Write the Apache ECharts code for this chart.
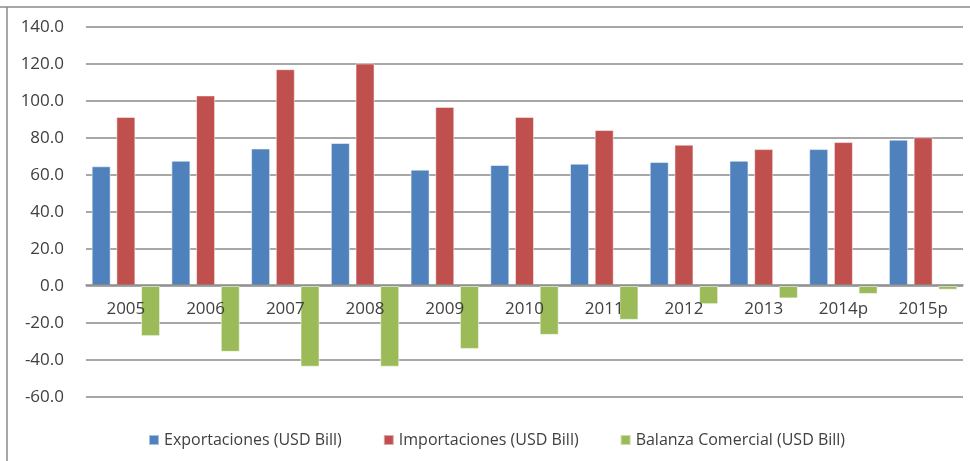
<!DOCTYPE html>
<html>
<head>
<meta charset="utf-8">
<script src="https://cdn.jsdelivr.net/npm/echarts@6/dist/echarts.min.js"></script>
<style>
  html, body { margin: 0; padding: 0; background: #fff; }
  #main { width: 970px; height: 461px; }
</style>
</head>
<body>
<div id="main"></div>
<script>
// datos
const years = ['2005', '2006', '2007', '2008', '2009', '2010', '2011', '2012', '2013', '2014p', '2015p'];
const exportaciones = [64.7, 67.7, 74.3, 77.3, 62.9, 65.4, 66.1, 67.0, 67.7, 74.0, 79.1];
const importaciones = [91.4, 103.0, 117.2, 120.3, 96.8, 91.4, 84.3, 76.4, 74.0, 77.8, 80.4];
const balanza = [-27.1, -35.6, -43.6, -43.6, -34.0, -26.4, -18.3, -9.8, -6.7, -4.3, -2.0];
const seriesNames = ['Exportaciones (USD Bill)', 'Importaciones (USD Bill)', 'Balanza Comercial (USD Bill)'];
const colors = ['#4F81BD', '#C0504D', '#9BBB59'];

const font = '"Open Sans", sans-serif';
const myChart = echarts.init(document.getElementById('main'));

function barSerie(name, data, color) {
  return {
    name: name,
    type: 'bar',
    data: data,
    barWidth: 19,
    barGap: '30%',
    itemStyle: { color: color, borderColor: 'rgba(255,255,255,0.5)', borderWidth: 1 }
  };
}

const option = {
  animation: false,
  color: colors,
  textStyle: { fontFamily: font },
  grid: { left: 86, right: 7, top: 27, bottom: 64 },
  // marco del grafico (solo arriba e izquierda)
  graphic: [
    { type: 'line', shape: { x1: 0, y1: 7, x2: 970, y2: 7 }, style: { stroke: '#8a8a8a', lineWidth: 1.5 } },
    { type: 'line', shape: { x1: 7, y1: 7, x2: 7, y2: 461 }, style: { stroke: '#8a8a8a', lineWidth: 1.5 } }
  ],
  legend: {
    left: 143,
    top: 427,
    itemWidth: 10,
    itemHeight: 10,
    itemGap: 41,
    icon: 'rect',
    textStyle: { fontSize: 16, color: '#404040', fontFamily: font },
    data: seriesNames
  },
  xAxis: {
    type: 'category',
    data: years,
    z: 10,
    // el eje se sube hasta el cero (offset negativo)
    offset: -112,
    axisLine: { onZero: false, lineStyle: { color: '#8a8a8a', width: 1.5 } },
    axisTick: { show: false },
    axisLabel: { fontSize: 17, color: '#404040', margin: 16, fontFamily: font }
  },
  yAxis: {
    type: 'value',
    min: -60,
    max: 140,
    interval: 20,
    axisLine: { show: false },
    axisTick: { show: false },
    splitLine: { lineStyle: { color: '#8a8a8a', width: 1.5 } },
    axisLabel: {
      fontSize: 17, color: '#404040', margin: 22, fontFamily: font,
      formatter: function (v) { return v.toFixed(1); }
    }
  },
  series: [
    barSerie(seriesNames[0], exportaciones, colors[0]),
    barSerie(seriesNames[1], importaciones, colors[1]),
    barSerie(seriesNames[2], balanza, colors[2])
  ]
};

myChart.setOption(option);
</script>
</body>
</html>
